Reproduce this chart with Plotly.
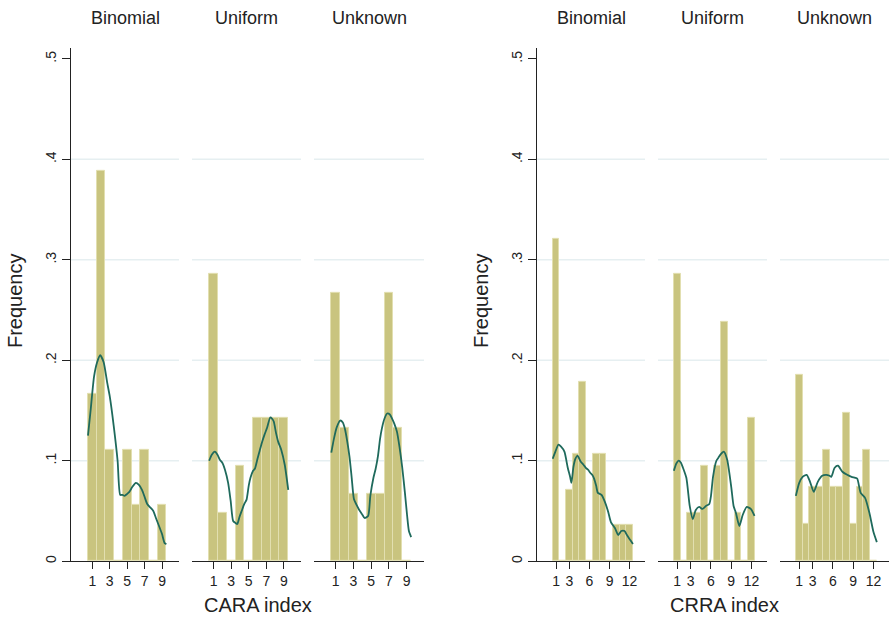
import plotly.graph_objects as go

W, H = 889, 620

# ---------------- data ----------------
cara_x = [1, 2, 3, 4, 5, 6, 7, 8, 9]
cara_binomial = [0.167, 0.389, 0.111, 0, 0.111, 0.056, 0.111, 0, 0.056]
cara_uniform = [0.286, 0.048, 0, 0.095, 0, 0.143, 0.143, 0.143, 0.143]
cara_unknown = [0.267, 0.133, 0.067, 0, 0.067, 0.067, 0.267, 0.133, 0]

crra_x = [1, 2, 3, 4, 5, 6, 7, 8, 9, 10, 11, 12]
crra_binomial = [0.321, 0, 0.071, 0.107, 0.179, 0, 0.107, 0.107, 0, 0.036, 0.036, 0.036]
crra_uniform = [0.286, 0, 0.048, 0.048, 0.095, 0, 0.095, 0.238, 0, 0.048, 0, 0.143]
crra_unknown = [0.185, 0.037, 0.074, 0.074, 0.111, 0.074, 0.074, 0.148, 0.037, 0.074, 0.111, 0]

# kernel density lines
kd_cara_binomial_x = [0.5, 0.8, 1.2, 1.55, 1.9, 2.3, 2.7, 3.0, 3.45, 3.9, 4.2, 4.45, 4.7, 5.0, 5.25, 5.6, 6.0, 6.35, 6.7, 7.0, 7.3, 7.7, 8.0, 8.3, 8.7, 9.0, 9.3, 9.5]
kd_cara_binomial_y = [0.125, 0.150, 0.184, 0.198, 0.205, 0.198, 0.178, 0.164, 0.135, 0.100, 0.066, 0.066, 0.065, 0.067, 0.069, 0.074, 0.078, 0.076, 0.071, 0.064, 0.057, 0.053, 0.050, 0.043, 0.034, 0.027, 0.018, 0.017]
kd_cara_uniform_x = [0.5, 0.8, 1.15, 1.45, 1.72, 2.0, 2.3, 2.66, 2.95, 3.23, 3.5, 3.7, 3.95, 4.2, 4.5, 4.75, 5.0, 5.2, 5.5, 5.7, 6.0, 6.25, 6.5, 6.8, 7.1, 7.45, 7.65, 7.85, 8.1, 8.35, 8.7, 9.1, 9.5]
kd_cara_uniform_y = [0.100, 0.106, 0.109, 0.106, 0.101, 0.098, 0.091, 0.078, 0.060, 0.040, 0.038, 0.037, 0.044, 0.050, 0.057, 0.061, 0.075, 0.083, 0.090, 0.092, 0.102, 0.110, 0.118, 0.126, 0.133, 0.143, 0.142, 0.139, 0.128, 0.119, 0.111, 0.096, 0.071]
kd_cara_unknown_x = [0.5, 0.8, 1.1, 1.5, 1.8, 2.05, 2.3, 2.55, 2.8, 3.05, 3.35, 3.65, 3.95, 4.25, 4.65, 4.9, 5.25, 5.5, 5.75, 6.0, 6.2, 6.5, 6.8, 7.1, 7.35, 7.6, 7.9, 8.2, 8.5, 8.8, 9.05, 9.25, 9.5]
kd_cara_unknown_y = [0.108, 0.122, 0.133, 0.140, 0.138, 0.131, 0.119, 0.104, 0.083, 0.062, 0.056, 0.051, 0.047, 0.043, 0.045, 0.065, 0.083, 0.092, 0.104, 0.122, 0.132, 0.142, 0.147, 0.146, 0.142, 0.137, 0.129, 0.113, 0.093, 0.068, 0.045, 0.030, 0.024]

kd_crra_binomial_x = [0.5, 0.9, 1.35, 1.75, 2.25, 2.75, 3.1, 3.3, 3.6, 3.9, 4.2, 4.7, 5.1, 5.45, 5.8, 6.1, 6.4, 6.7, 7.0, 7.25, 7.8, 8.3, 8.8, 9.2, 9.8, 10.3, 10.75, 11.25, 11.6, 12.1, 12.5]
kd_crra_binomial_y = [0.102, 0.109, 0.116, 0.114, 0.109, 0.093, 0.084, 0.078, 0.094, 0.102, 0.105, 0.099, 0.096, 0.093, 0.091, 0.088, 0.086, 0.082, 0.075, 0.068, 0.066, 0.059, 0.049, 0.039, 0.033, 0.026, 0.030, 0.030, 0.026, 0.021, 0.017]
kd_crra_uniform_x = [0.5, 0.85, 1.2, 1.55, 1.85, 2.35, 2.85, 3.3, 3.75, 4.25, 4.75, 5.25, 5.75, 6.0, 6.3, 6.8, 7.1, 7.4, 7.9, 8.4, 9.0, 9.35, 9.7, 10.2, 10.7, 11.3, 11.9, 12.45]
kd_crra_uniform_y = [0.090, 0.097, 0.100, 0.098, 0.093, 0.083, 0.055, 0.042, 0.051, 0.054, 0.052, 0.055, 0.057, 0.065, 0.084, 0.100, 0.103, 0.106, 0.109, 0.101, 0.074, 0.055, 0.048, 0.035, 0.046, 0.054, 0.052, 0.045]
kd_crra_unknown_x = [0.5, 1.0, 1.5, 2.1, 2.6, 3.15, 3.75, 4.4, 5.0, 5.5, 5.75, 6.25, 6.75, 7.4, 8.1, 8.75, 9.3, 9.6, 10.1, 10.75, 11.4, 12.0, 12.5]
kd_crra_unknown_y = [0.065, 0.078, 0.084, 0.086, 0.079, 0.069, 0.079, 0.085, 0.086, 0.085, 0.084, 0.093, 0.095, 0.089, 0.086, 0.084, 0.083, 0.082, 0.068, 0.063, 0.048, 0.029, 0.019]

panel_titles = ["Binomial", "Uniform", "Unknown"]
cara_ticks = [1, 3, 5, 7, 9]
crra_ticks = [1, 3, 6, 9, 12]
y_ticks = [0, 0.1, 0.2, 0.3, 0.4, 0.5]
y_ticklabels = ["0", ".1", ".2", ".3", ".4", ".5"]
grid_vals = [0.1, 0.2, 0.3, 0.4]

# ---------------- styling ----------------
BAR_FILL = "rgb(201,196,127)"
BAR_EDGE = "rgb(226,223,176)"
KD_COLOR = "#1f6a5c"
GRID_COLOR = "#e6eff1"
AXIS_COLOR = "#222222"
FONT = "Liberation Sans, Arial, sans-serif"

# panel pixel extents
panel_px = [(71, 179), (192, 301), (314, 424), (537, 645), (658, 767), (780, 889)]
y_top_px, y_bot_px = 48, 563
cara_range = [-1.45, 10.95]
crra_range = [-1.85, 14.3]
y_range = [0, 0.511]

panels = [
    (cara_x, cara_binomial, kd_cara_binomial_x, kd_cara_binomial_y, cara_ticks, cara_range),
    (cara_x, cara_uniform, kd_cara_uniform_x, kd_cara_uniform_y, cara_ticks, cara_range),
    (cara_x, cara_unknown, kd_cara_unknown_x, kd_cara_unknown_y, cara_ticks, cara_range),
    (crra_x, crra_binomial, kd_crra_binomial_x, kd_crra_binomial_y, crra_ticks, crra_range),
    (crra_x, crra_uniform, kd_crra_uniform_x, kd_crra_uniform_y, crra_ticks, crra_range),
    (crra_x, crra_unknown, kd_crra_unknown_x, kd_crra_unknown_y, crra_ticks, crra_range),
]

fig = go.Figure()
layout = dict(
    width=W, height=H,
    margin=dict(l=0, r=0, t=0, b=0),
    paper_bgcolor="white", plot_bgcolor="white",
    showlegend=False,
    font=dict(family=FONT, color=AXIS_COLOR, size=14),
    bargap=0,
)
annotations = []
shapes = []

ydom = [(H - y_bot_px) / H, (H - y_top_px) / H]

for i, (bx, by, kx, ky, ticks, xr) in enumerate(panels):
    n = i + 1
    xa = "x" if n == 1 else f"x{n}"
    ya = "y" if n == 1 else f"y{n}"
    fig.add_trace(go.Bar(
        x=bx, y=by, width=1.0, xaxis=xa, yaxis=ya,
        marker=dict(color=BAR_FILL, line=dict(color=BAR_EDGE, width=1)),
        hoverinfo="skip",
    ))
    fig.add_trace(go.Scatter(
        x=kx, y=ky, mode="lines", xaxis=xa, yaxis=ya,
        line=dict(color=KD_COLOR, width=1.8, shape="spline", smoothing=0.6),
        hoverinfo="skip",
    ))
    x0, x1 = panel_px[i]
    first = (i % 3 == 0)
    layout[f"xaxis{n}"] = dict(
        domain=[x0 / W, x1 / W], range=xr, anchor=ya,
        tickmode="array", tickvals=ticks, ticktext=[str(t) for t in ticks],
        ticks="outside", ticklen=7, tickcolor=AXIS_COLOR, tickwidth=1,
        showline=True, linecolor=AXIS_COLOR, linewidth=1,
        showgrid=False, zeroline=False,
        tickfont=dict(size=14, family=FONT, color=AXIS_COLOR),
    )
    layout[f"yaxis{n}"] = dict(
        domain=ydom, range=y_range, anchor=xa,
        tickmode="array", tickvals=y_ticks, ticktext=y_ticklabels,
        ticks="outside" if first else "", ticklen=8, tickcolor=AXIS_COLOR, tickwidth=1,
        showticklabels=first, tickangle=-90,
        showline=first, linecolor=AXIS_COLOR, linewidth=1,
        showgrid=False, zeroline=False,
        tickfont=dict(size=14, family=FONT, color=AXIS_COLOR),
    )
    for g in grid_vals:
        shapes.append(dict(
            type="line", xref=f"{xa} domain", yref=ya,
            x0=0, x1=1, y0=g, y1=g, layer="below",
            line=dict(color=GRID_COLOR, width=1.5),
        ))
    annotations.append(dict(
        text=panel_titles[i % 3], x=(x0 + x1) / 2 / W, y=1 - 18 / H,
        xref="paper", yref="paper", showarrow=False,
        xanchor="center", yanchor="middle",
        font=dict(size=18, family=FONT, color=AXIS_COLOR),
    ))

# axis titles
for txt, xp in [("Frequency", 15), ("Frequency", 481)]:
    annotations.append(dict(
        text=txt, x=xp / W, y=1 - 302 / H, xref="paper", yref="paper",
        showarrow=False, textangle=-90, xanchor="center", yanchor="middle",
        font=dict(size=20, family=FONT, color=AXIS_COLOR),
    ))
for txt, xp in [("CARA index", 258), ("CRRA index", 724)]:
    annotations.append(dict(
        text=txt, x=xp / W, y=1 - 607 / H, xref="paper", yref="paper",
        showarrow=False, xanchor="center", yanchor="middle",
        font=dict(size=20, family=FONT, color=AXIS_COLOR),
    ))

layout["annotations"] = annotations
layout["shapes"] = shapes
fig.update_layout(**layout)
fig.write_html("out.html")
